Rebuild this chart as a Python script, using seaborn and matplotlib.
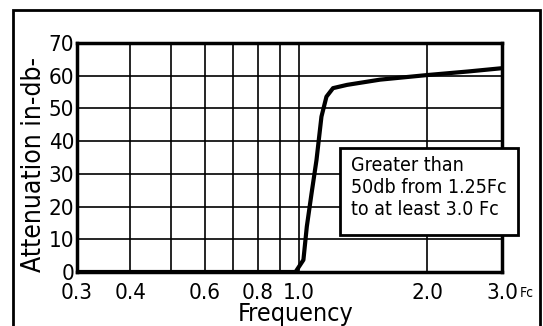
import matplotlib
matplotlib.use("Agg")
import matplotlib.pyplot as plt
from matplotlib.patches import Rectangle
from matplotlib.ticker import FixedLocator, FixedFormatter, NullFormatter
import seaborn as sns

# Attenuation response of the filter vs. normalised frequency (f / Fc)
freq = [0.30, 0.50, 0.80, 0.98, 1.023, 1.042, 1.069, 1.098, 1.128, 1.159, 1.201, 1.296, 1.55, 2.0, 2.5, 3.0]
atten = [0.0, 0.0, 0.0, 0.0, 3.7, 13.9, 24.0, 34.2, 47.5, 53.6, 56.2, 57.2, 58.8, 60.2, 61.3, 62.3]

x_ticks = [0.3, 0.4, 0.6, 0.8, 1.0, 2.0, 3.0]
x_tick_labels = ["0.3", "0.4", "0.6", "0.8", "1.0", "2.0", "3.0"]
x_minor = [0.5, 0.7, 0.9]
y_ticks = [0, 10, 20, 30, 40, 50, 60, 70]
y_tick_labels = ["0", "10", "20", "30", "40", "50", "60", "70"]

note = "Greater than\n50db from 1.25Fc\nto at least 3.0 Fc"

sns.set_style("white")
plt.rcParams["font.family"] = ["DejaVu Sans"]
plt.rcParams["font.stretch"] = "condensed"
plt.rcParams["text.color"] = "black"
plt.rcParams["axes.labelcolor"] = "black"
plt.rcParams["xtick.color"] = "black"
plt.rcParams["ytick.color"] = "black"

fig = plt.figure(figsize=(5.43, 3.26), dpi=100)
ax = fig.add_axes([77 / 543, 54 / 326, 425 / 543, 229 / 326])

sns.lineplot(x=freq, y=atten, ax=ax, color="black", linewidth=3.0, zorder=4)

ax.set_xscale("log")
ax.set_xlim(0.3, 3.0)
ax.set_ylim(0, 70)

ax.xaxis.set_major_locator(FixedLocator(x_ticks))
ax.xaxis.set_major_formatter(FixedFormatter(x_tick_labels))
ax.xaxis.set_minor_locator(FixedLocator(x_minor))
ax.xaxis.set_minor_formatter(NullFormatter())
ax.yaxis.set_major_locator(FixedLocator(y_ticks))
ax.yaxis.set_major_formatter(FixedFormatter(y_tick_labels))

ax.tick_params(axis="both", which="both", length=0)
ax.tick_params(axis="x", pad=8, labelsize=16)
ax.tick_params(axis="y", pad=2, labelsize=16)

ax.grid(True, which="both", color="black", linewidth=1.2)
for s in ax.spines.values():
    s.set_visible(True)
    s.set_color("black")
    s.set_linewidth(2.5)

ax.set_xlabel("Frequency", fontsize=18)
ax.xaxis.set_label_coords(0.515, -0.13)
ax.set_ylabel("Attenuation in-db-", fontsize=19)
ax.yaxis.set_label_coords(-0.07, 0.47)

# unit suffix after the last frequency label
ax.annotate("Fc", xy=(3.0, 0), xycoords="data", xytext=(12.5, -10),
            textcoords="offset points", fontsize=10, ha="left", va="top")

# specification note in a framed box
ax.add_patch(Rectangle((0.619, 0.162), 0.419, 0.379, transform=ax.transAxes,
                       facecolor="white", edgecolor="black", linewidth=2,
                       clip_on=False, zorder=5))
ax.text(0.645, 0.371, note, transform=ax.transAxes, fontsize=14,
        ha="left", va="center", linespacing=1.2, zorder=6)

# outer frame around the whole drawing
fig.patches.append(Rectangle((13 / 543, -0.05), 527 / 543, 0.05 + 316 / 326,
                             transform=fig.transFigure, fill=False,
                             edgecolor="black", linewidth=2))

fig.savefig("out.png", dpi=100)
